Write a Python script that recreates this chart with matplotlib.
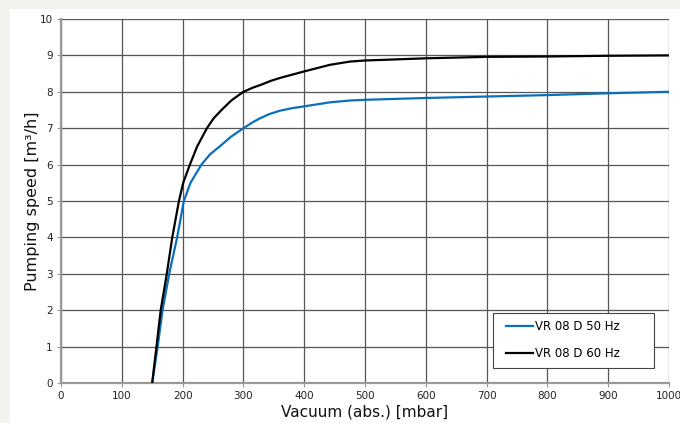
import matplotlib
matplotlib.use("Agg")
import matplotlib.pyplot as plt
from matplotlib.patches import Rectangle

plt.rcParams['font.family'] = ['Liberation Sans Narrow', 'DejaVu Sans']

# curve readings, vacuum [mbar] vs pumping speed [m3/h]
vac_50 = [150, 159, 167, 178, 191, 202, 213, 231, 245, 261, 280, 300, 315, 327, 343, 360, 380, 400, 442, 475, 500, 600, 700, 800, 900, 1000]
speed_50 = [0, 1, 2, 3, 4, 5, 5.5, 6, 6.28, 6.5, 6.77, 7, 7.16, 7.27, 7.39, 7.48, 7.55, 7.6, 7.71, 7.76, 7.78, 7.83, 7.87, 7.91, 7.96, 8.0]
vac_60 = [150, 157, 164, 174, 183, 194, 201, 212, 224, 240, 251, 264, 280, 300, 315, 330, 345, 360, 400, 442, 475, 500, 600, 700, 800, 900, 1000]
speed_60 = [0, 1, 2, 3, 4, 5, 5.5, 6, 6.5, 7, 7.27, 7.5, 7.76, 8, 8.11, 8.2, 8.3, 8.38, 8.56, 8.74, 8.83, 8.86, 8.92, 8.96, 8.97, 8.99, 9.0]
labels = ['VR 08 D 50 Hz', 'VR 08 D 60 Hz']

fig = plt.figure(figsize=(6.8, 4.23), dpi=100)
fig.patch.set_facecolor('#f3f2ec')
fig.patches.append(Rectangle((10 / 680, 0), 670 / 680, 414 / 423,
                             transform=fig.transFigure, facecolor='white',
                             edgecolor='none', zorder=-10))

ax = fig.add_axes([61 / 680, 40 / 423, 608 / 680, 364 / 423])
ax.set_zorder(2)
ax.set_facecolor('white')

ax.plot(vac_50, speed_50, color='#0a6fba', lw=1.6, label=labels[0], zorder=3,
        solid_joinstyle='round')
ax.plot(vac_60, speed_60, color='black', lw=1.6, label=labels[1], zorder=3,
        solid_joinstyle='round')

ax.set_xlim(0, 1000)
ax.set_ylim(0, 10)
ax.set_xticks(range(0, 1001, 100))
ax.set_yticks(range(0, 11))
ax.grid(True, color='#555555', lw=0.9)
ax.set_axisbelow(True)

for s in ['top', 'right']:
    ax.spines[s].set_visible(False)
for s in ['left', 'bottom']:
    ax.spines[s].set_color('#999999')
    ax.spines[s].set_linewidth(1.6)

ax.tick_params(axis='both', labelsize=7.5, colors='#999999', labelcolor='#222222',
               length=3, width=0.8, pad=3)

ax.set_xlabel('Vacuum (abs.) [mbar]', fontsize=11, color='#111111', labelpad=2)
ax.set_ylabel('Pumping speed [m³/h]', fontsize=11.5, color='#111111', labelpad=0)

# legend box is wider than its contents in the original, so draw it apart
ax.add_patch(Rectangle((0.7105, 0.041), 0.2645, 0.151, transform=ax.transAxes,
                       facecolor='white', edgecolor='#444444', lw=0.8, zorder=4))
leg = ax.legend(loc='center left', bbox_to_anchor=(0.732, 0.117), fontsize=8.5,
                frameon=False, handlelength=2.3, handletextpad=0.17,
                labelspacing=1.2, borderpad=0, borderaxespad=0)
leg.set_zorder(5)

fig.savefig('out.png', dpi=100, facecolor=fig.get_facecolor())
